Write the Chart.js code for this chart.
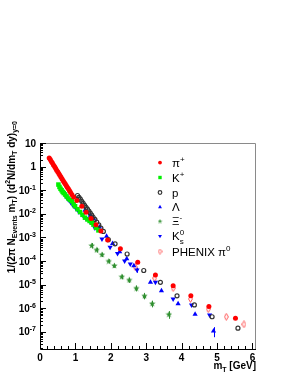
<!DOCTYPE html>
<html><head><meta charset="utf-8">
<script src="https://cdn.jsdelivr.net/npm/chart.js@4/dist/chart.umd.min.js"></script>
<style>html,body{margin:0;padding:0;background:#fff}canvas{display:block}</style>
</head><body>
<canvas id="c" width="291" height="376"></canvas>
<script>
// ---------- data ----------
const xTickValues = [0, 1, 2, 3, 4, 5, 6];
const xTickLabels = ['0', '1', '2', '3', '4', '5', '6'];
const yTickValues = [10, 1, 1e-1, 1e-2, 1e-3, 1e-4, 1e-5, 1e-6, 1e-7];
const yTickBase   = ['10', '1', '10', '10', '10', '10', '10', '10', '10'];
const yTickExp    = ['', '', '-1', '-2', '-3', '-4', '-5', '-6', '-7'];

const piPlusMt  = [0.26,0.29,0.32,0.35,0.38,0.41,0.44,0.47,0.50,0.53,0.56,0.59,0.62,0.65,0.68,0.71,0.74,0.77,0.80,0.83,0.86,0.90,0.95,
                   1.04,1.18,1.30,1.44,1.58,1.72,1.91,2.27,2.76,3.26,3.76,4.26,4.77,5.52];
const piPlusVal = [2.34,2.0,1.66,1.41,1.17,1.0,0.85,0.71,0.60,0.51,0.43,0.36,0.31,0.26,0.22,0.19,0.16,0.135,0.115,0.098,0.083,0.066,0.052,
                   0.037,0.021,0.0117,0.0063,0.0035,0.0019,7.9e-4,3.3e-4,8.9e-5,2.6e-5,9.1e-6,3.4e-6,1.2e-6,3.8e-7];

const kPlusMt  = [0.52,0.55,0.58,0.61,0.64,0.67,0.71,0.75,0.80,0.85,0.90,0.95,0.99,1.06,1.13,1.20,1.27,1.34,1.40,1.46,1.51,1.58,1.65];
const kPlusVal = [0.174,0.138,0.115,0.1,0.085,0.076,0.066,0.055,0.045,0.039,0.034,0.026,0.021,0.0158,0.012,0.0091,0.0069,0.0058,0.005,0.0042,0.0035,0.0026,0.002];

const protonMt  = [1.06,1.10,1.14,1.18,1.22,1.26,1.30,1.34,1.38,1.42,1.46,1.50,1.55,1.60,1.66,1.72,1.79,
                   1.93,2.12,2.46,2.93,3.40,3.87,4.36,4.86,5.59];
const protonVal = [0.060,0.050,0.042,0.034,0.028,0.023,0.019,0.0158,0.0132,0.0107,0.0089,0.0072,0.0058,0.0045,0.0034,0.0025,0.0018,
                   8.1e-4,5.4e-4,2.0e-4,4.0e-5,1.26e-5,3.4e-6,1.4e-6,4.4e-7,1.45e-7];

const lambdaMt  = [1.27,1.42,1.51,1.68,1.88,2.05,2.25,2.45,2.65,3.12,3.43,3.90,4.38,4.90];
const lambdaVal = [0.0141,0.0087,0.0063,0.0028,0.00112,5.6e-4,2.5e-4,1.26e-4,6.3e-5,1.26e-5,5.5e-6,1.58e-6,5.6e-7,1.1e-7];
const lambdaErr = [0,0,0,0,0,0,0,0,0,0,0,0,0,5e-8];

const xiMt  = [1.46,1.60,1.75,1.94,2.10,2.31,2.52,2.72,2.95,3.17,3.64];
const xiVal = [4.6e-4,3.0e-4,1.9e-4,1.0e-4,6.5e-5,2.2e-5,1.6e-5,7.2e-6,3.4e-6,1.6e-6,5.6e-7];
const xiErr = [1.2e-4,0.7e-4,0.4e-4,0.2e-4,1.3e-5,0.5e-5,0.4e-5,2.0e-6,1.0e-6,0.5e-6,2.0e-7];

const k0sMt  = [0.59,0.63,0.68,0.74,0.80,0.87,0.94,1.02,1.10,1.20,1.30,1.42,1.55,1.75,1.98,2.19,2.39,2.55,2.74,3.26,3.76,4.28,4.79];
const k0sVal = [0.107,0.089,0.071,0.052,0.040,0.030,0.022,0.0166,0.012,0.0089,0.0063,0.0045,0.0025,8.7e-4,3.9e-4,2.1e-4,1.0e-4,7.6e-5,4.2e-5,1.26e-5,2.5e-6,1.4e-6,5.2e-7];
const k0sErr = [0,0,0,0,0,0,0,0,0,0,0,0,0,0,0,0,0,0,1.0e-5,0,0,0,0];

const phenixMt  = [2.69,3.24,3.76,4.25,4.75,5.26,5.76];
const phenixVal = [5.5e-5,1.9e-5,7.2e-6,2.5e-6,9.3e-7,4.4e-7,2.1e-7];

// ---------- helpers ----------
const FAM = '"Liberation Sans", Arial, Helvetica, sans-serif';
function pts(xs, ys){ return xs.map((x,i)=>({x:x, y:ys[i]})); }

function makeStar(color, s){
  const c=document.createElement('canvas'); c.width=s; c.height=s;
  const g=c.getContext('2d'); g.fillStyle=color; g.beginPath();
  const h=s/2;
  for(let i=0;i<10;i++){ const r = i%2===0 ? h-0.2 : h*0.42; const a = -Math.PI/2 + i*Math.PI/5;
    const px=h+r*Math.cos(a), py=h+0.3+r*Math.sin(a); if(i===0) g.moveTo(px,py); else g.lineTo(px,py);}
  g.closePath(); g.fill(); return c;
}
function makeDiamond(color, w, h){
  const c=document.createElement('canvas'); c.width=w; c.height=h;
  const g=c.getContext('2d'); g.strokeStyle=color; g.lineWidth=1; g.beginPath();
  g.moveTo(w/2,0.6); g.lineTo(w-0.6,h/2); g.lineTo(w/2,h-0.6); g.lineTo(0.6,h/2); g.closePath(); g.stroke(); return c;
}
const starImg = makeStar('#2f8f2f', 7);
const starLegend = makeStar('#2f8f2f', 5);
const diamondImg = makeDiamond('#ff5a5a', 5, 8);
const diamondLegend = makeDiamond('#ff5a5a', 5, 6);

const datasets = [
  {label:'pi', data:pts(piPlusMt,piPlusVal), pointStyle:'circle', pointRadius:2.5, backgroundColor:'#ff0000', borderColor:'#ff0000', borderWidth:0},
  {label:'K', data:pts(kPlusMt,kPlusVal), pointStyle:'rect', pointRadius:3.2, backgroundColor:'#00f000', borderColor:'#00f000', borderWidth:0},
  {label:'p', data:pts(protonMt,protonVal), pointStyle:'circle', pointRadius:2.0, backgroundColor:'rgba(255,255,255,0)', borderColor:'#333', borderWidth:1.2},
  {label:'L', data:pts(lambdaMt,lambdaVal), err:lambdaErr, pointStyle:'triangle', pointRadius:3.0, backgroundColor:'#0000ff', borderColor:'#0000ff', borderWidth:0},
  {label:'Xi', data:pts(xiMt,xiVal), err:xiErr, pointStyle:starImg, legendImg:starLegend, pointRadius:3, backgroundColor:'#2f8f2f', borderColor:'#2f8f2f'},
  {label:'K0s', data:pts(k0sMt,k0sVal), err:k0sErr, pointStyle:'triangle', rotation:180, pointRadius:3.0, backgroundColor:'#0000ff', borderColor:'#0000ff', borderWidth:0},
  {label:'PHENIX', data:pts(phenixMt,phenixVal), pointStyle:diamondImg, legendImg:diamondLegend, pointRadius:3, backgroundColor:'#ff5a5a', borderColor:'#ff5a5a'}
];

function drawRich(ctx, segs, x, y, size, weight, align){
  const small = Math.round(size*0.72);
  const fN = `${weight} ${size}px ${FAM}`, fS = `${weight} ${small}px ${FAM}`;
  const ws = segs.map(s=>{
    if(s.k==='n'){ ctx.font=fN; return ctx.measureText(s.t).width; }
    ctx.font=fS;
    if(s.k==='ss') return Math.max(ctx.measureText(s.t).width, ctx.measureText(s.b).width);
    return ctx.measureText(s.t).width;
  });
  const w = ws.reduce((a,b)=>a+b,0);
  let cx = align==='right' ? x-w : (align==='center' ? x-w/2 : x);
  ctx.textAlign='left'; ctx.textBaseline='alphabetic';
  segs.forEach((s,i)=>{
    if(s.k==='n'){ ctx.font=fN; ctx.fillText(s.t,cx,y); }
    else if(s.k==='sup'){ ctx.font=fS; ctx.fillText(s.t,cx,y-size*0.42); }
    else if(s.k==='sub'){ ctx.font=fS; ctx.fillText(s.t,cx,y+size*0.28); }
    else if(s.k==='ss'){ ctx.font=fS; ctx.fillText(s.t,cx,y-size*0.45); ctx.fillText(s.b,cx,y+size*0.32); }
    cx += ws[i];
  });
}
const N=(t)=>({k:'n',t}), SUP=(t)=>({k:'sup',t}), SUB=(t)=>({k:'sub',t});

const legendEntries = [
  {ds:0, y:162.5, segs:[N('π'),SUP('+')]},
  {ds:1, y:177.5, segs:[N('K'),SUP('+')]},
  {ds:2, y:192.5, segs:[N('p')]},
  {ds:3, y:207, segs:[N('Λ')]},
  {ds:4, y:221, segs:[N('Ξ'),SUP('-')]},
  {ds:5, y:236, segs:[N('K'),{k:'ss',t:'0',b:'s'}]},
  {ds:6, y:251.5, segs:[N('PHENIX π'),SUP('0')]}
];

const axesPlugin = {
  id:'rootAxes',
  beforeDatasetsDraw(chart){
    const ctx=chart.ctx, a=chart.chartArea, xs=chart.scales.x, ys=chart.scales.y;
    ctx.save();
    ctx.strokeStyle='#8a8a8a'; ctx.lineWidth=1;
    ctx.beginPath(); ctx.moveTo(a.left, a.top+0.5); ctx.lineTo(a.right-0.5, a.top+0.5); ctx.lineTo(a.right-0.5, a.bottom); ctx.stroke();
    ctx.strokeStyle='#000';
    ctx.beginPath(); ctx.moveTo(a.left+0.5, a.top); ctx.lineTo(a.left+0.5, a.bottom+0.5); ctx.lineTo(a.right, a.bottom+0.5); ctx.stroke();
    ctx.beginPath();
    for(let i=0;i<=30;i++){
      const v=i*0.2; if(v>xs.max) break;
      const px=Math.round(xs.getPixelForValue(v))+0.5;
      const len = (i%5===0) ? 6 : 3;
      ctx.moveTo(px, a.bottom); ctx.lineTo(px, a.bottom-len);
    }
    for(let e=-8;e<=1;e++){
      for(let m=1;m<=9;m++){
        const v=m*Math.pow(10,e);
        if(v<ys.min||v>ys.max) continue;
        const py=Math.round(ys.getPixelForValue(v))+0.5;
        const len = m===1 ? 6 : 3;
        ctx.moveTo(a.left, py); ctx.lineTo(a.left+len, py);
      }
    }
    ctx.stroke();
    ctx.restore();
  },
  afterDatasetsDraw(chart){
    const ctx=chart.ctx, xs=chart.scales.x, ys=chart.scales.y;
    ctx.save(); ctx.lineWidth=1;
    chart.data.datasets.forEach(ds=>{
      if(!ds.err) return;
      ctx.strokeStyle=ds.borderColor;
      ds.data.forEach((p,i)=>{
        const e=ds.err[i]; if(!e) return;
        const px=Math.round(xs.getPixelForValue(p.x))+0.5;
        const y1=ys.getPixelForValue(p.y+e), y2=ys.getPixelForValue(Math.max(p.y-e, p.y*0.05));
        ctx.beginPath(); ctx.moveTo(px,y1); ctx.lineTo(px,y2); ctx.stroke();
      });
    });
    ctx.restore();
  },
  afterDraw(chart){
    const ctx=chart.ctx, a=chart.chartArea, xs=chart.scales.x, ys=chart.scales.y;
    ctx.save(); ctx.fillStyle='#000';
    xTickValues.forEach((v,i)=>{
      drawRich(ctx,[N(xTickLabels[i])], xs.getPixelForValue(v), a.bottom+12, 10, 'bold', 'center');
    });
    yTickValues.forEach((v,i)=>{
      const py=ys.getPixelForValue(v);
      const segs=[N(yTickBase[i])]; if(yTickExp[i]) segs.push(SUP(yTickExp[i]));
      drawRich(ctx, segs, 36, py+3.5, 10, 'bold', 'right');
    });
    drawRich(ctx,[N('m'),SUB('T'),N(' [GeV]')], a.right, 369, 10, 'bold', 'right');
    ctx.translate(14.5, 121); ctx.rotate(-Math.PI/2);
    drawRich(ctx,[N('1/(2π N'),SUB('Events'),N(' m'),SUB('T'),N(') (d'),SUP('2'),N('N/dm'),SUB('T'),N(' dy)'),SUB('y=0')], 0, 0, 10, 'bold', 'right');
    ctx.restore();
    ctx.save();
    legendEntries.forEach(en=>{
      const ds=chart.data.datasets[en.ds];
      const opts={pointStyle:ds.pointStyle, radius:Math.max(1.8, ds.pointRadius*0.75), rotation:ds.rotation||0, borderWidth:ds.borderWidth===undefined?1:ds.borderWidth};
      ctx.fillStyle=ds.backgroundColor; ctx.strokeStyle=ds.borderColor; ctx.lineWidth=opts.borderWidth;
      if(ds.legendImg){
        ctx.drawImage(ds.legendImg, 160-ds.legendImg.width/2, en.y-ds.legendImg.height/2);
      } else {
        Chart.helpers.drawPoint(ctx, opts, 160, en.y);
      }
      ctx.fillStyle='#000';
      drawRich(ctx, en.segs, 172, en.y+4, 11.5, 'normal', 'left');
    });
    ctx.restore();
  }
};

new Chart(document.getElementById('c'), {
  type:'scatter',
  data:{datasets},
  options:{
    responsive:false, animation:false, devicePixelRatio:1,
    layout:{padding:{left:40, top:143, right:35, bottom:27}},
    plugins:{legend:{display:false}, tooltip:{enabled:false}},
    scales:{
      x:{type:'linear', min:0, max:6.1, display:false},
      y:{type:'logarithmic', min:1.9e-8, max:10, display:false}
    }
  },
  plugins:[axesPlugin]
});
</script>
</body></html>
